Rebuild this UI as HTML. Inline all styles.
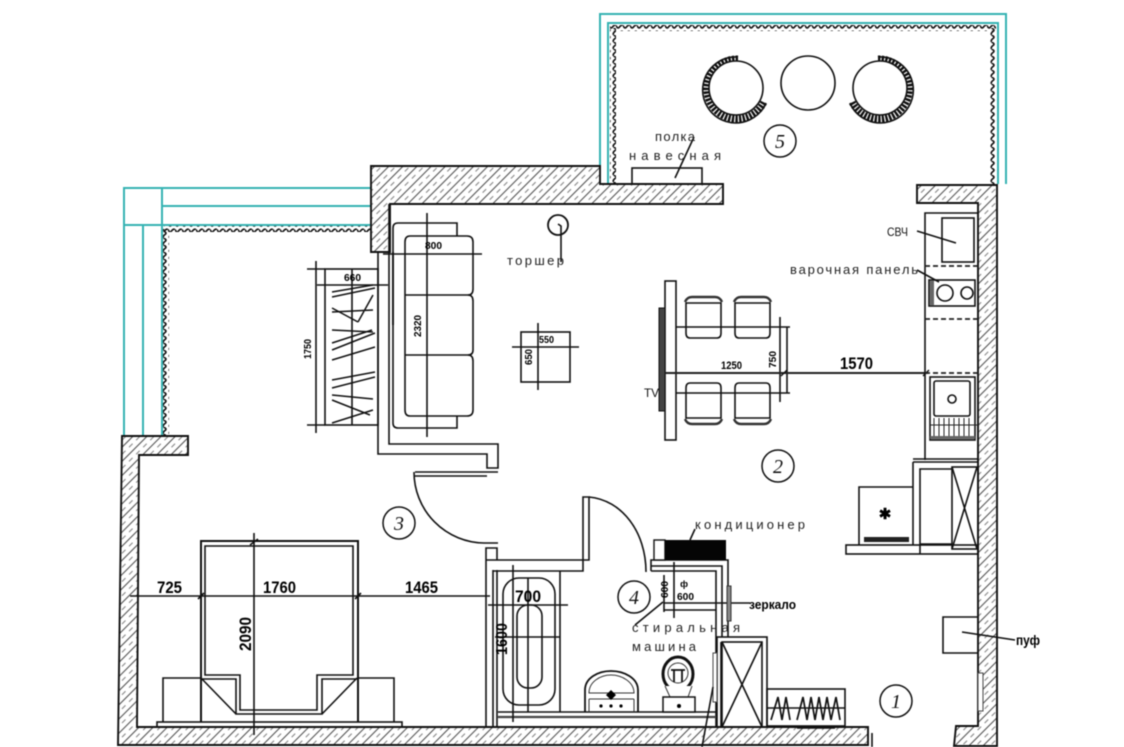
<!DOCTYPE html>
<html><head><meta charset="utf-8"><style>
html,body{margin:0;padding:0;background:#fff;width:1124px;height:747px;overflow:hidden}
svg{display:block;filter:blur(0.5px)}
text{font-family:"Liberation Sans",sans-serif;fill:#111}
.b{font-weight:bold;fill:#000}
.n{font-family:"Liberation Serif",serif;font-style:italic;font-size:20px;text-anchor:middle}
.w{fill:url(#hatch);stroke:#111;stroke-width:1.9}
.l{fill:none;stroke:#111;stroke-width:1.6}
.t{fill:none;stroke:#35b3b3;stroke-width:2}
.lab{font-size:13px;fill:#222}
</style></head><body>
<svg width="1124" height="747" viewBox="0 0 1124 747" xmlns="http://www.w3.org/2000/svg">
<defs>
<pattern id="hatch" width="10" height="10" patternUnits="userSpaceOnUse" patternTransform="rotate(45)">
<rect width="10" height="10" fill="#fff"/>
<path d="M2.5 0V10" stroke="#555" stroke-width="1.1"/>
<path d="M7.5 0V5" stroke="#888" stroke-width="1.1"/>
</pattern>
<pattern id="wh" width="7" height="6" patternUnits="userSpaceOnUse">
<path d="M0 1.5 Q1.75 5.5 3.5 3 T7 1.5" fill="none" stroke="#111" stroke-width="1.6"/>
</pattern>
<pattern id="wv" width="6" height="7" patternUnits="userSpaceOnUse">
<path d="M1.5 0 Q5.5 1.75 3 3.5 T1.5 7" fill="none" stroke="#111" stroke-width="1.6"/>
</pattern>
<g id="chairR">
<path d="M738 59 A30 30 0 1 0 764 102" fill="none" stroke="#111" stroke-width="7" stroke-dasharray="2.4 1.2"/>
<path d="M738 57 A33 33 0 1 0 766 103" fill="none" stroke="#111" stroke-width="1.6"/>
<circle cx="736" cy="88" r="27" fill="#fff" stroke="#111" stroke-width="1.6"/>
</g>
<g id="din">
<path class="l" d="M690 338Q686 338 686 333V303H721V333Q721 338 717 338Z"/>
<path d="M685 302Q687 297 692 297H715Q720 297 722 302" fill="none" stroke="#333" stroke-width="2.4"/>
</g>
</defs>

<!-- teal windows -->
<path class="t" d="M124 436V188H370M143 436V225M162 436V188M162 206H370M124 225H370"/>
<path class="t" d="M600 184V14H1006V184M608 184V23H998V184"/>
<!-- zigzag -->
<rect x="164" y="226" width="207" height="6" fill="url(#wh)"/>
<rect x="163" y="229" width="6" height="207" fill="url(#wv)"/>
<rect x="610" y="25" width="386" height="6" fill="url(#wh)"/>
<rect x="610" y="28" width="6" height="156" fill="url(#wv)"/>
<rect x="990" y="28" width="6" height="156" fill="url(#wv)"/>

<!-- walls -->
<path class="w" d="M371 166H600V184H723V204H390V252H371Z"/>
<path class="w" d="M917 185H997V746H954L956 726H978V203H917Z"/>
<path class="w" d="M122 436H188V455H139L137 727H868V745H118Z"/>

<!-- living partition -->
<path class="l" d="M378 252V454H487V468H498V444H389V204"/>
<path class="l" d="M415 472H498M415 476H487"/>
<path class="l" d="M414 472A71 71 0 0 0 484 543H498"/>
<path d="M393 252V325" stroke="#111" stroke-width="1.8"/>

<!-- bathroom walls -->
<path class="l" d="M486 548H497V560H486ZM486 560V727M493 570V727M497 570V727M486 560H583V571H493"/>
<path class="l" d="M583 560V497H589V560Z"/>
<path class="l" d="M589 497C622 500 646 532 646 572"/>
<path class="l" d="M651 571V560H728V637M651 571H716V637M651 566H722V637M716 637V727M721 642V727"/>

<!-- AC -->
<rect x="654" y="540" width="11" height="20" fill="#fff" stroke="#111" stroke-width="1.4"/>
<rect x="665" y="540" width="61" height="20" fill="#050505"/>
<path class="l" d="M695 529L690 540"/>

<!-- washer dims -->
<path class="l" d="M664 575V612M674 562V618M664 603H750M664 610H716"/>
<rect x="727" y="586" width="4" height="35" fill="#888" stroke="#333"/>
<path class="l" d="M663 602L635 625"/>
<text class="b" font-size="10" x="677" y="600" textLength="17" lengthAdjust="spacingAndGlyphs">600</text>
<text class="b" font-size="9" x="684" y="587" text-anchor="middle">ф</text>
<text class="b" font-size="10" transform="translate(668,598) rotate(-90)" textLength="17" lengthAdjust="spacingAndGlyphs">600</text>

<!-- bath -->
<path class="l" d="M560 571V712M498 712H716"/>
<path d="M498 717H716" stroke="#444" stroke-width="2.2"/>
<rect x="503" y="578" width="52" height="127" rx="16" class="l"/>
<rect x="517" y="605" width="25" height="83" rx="11" class="l"/>
<path class="l" d="M488 605H568M513 565V722M528 578V712M495 637H560"/>
<text class="b" font-size="17" x="515" y="602" textLength="26" lengthAdjust="spacingAndGlyphs">700</text>
<text class="b" font-size="16" transform="translate(507,655) rotate(-90)" textLength="32" lengthAdjust="spacingAndGlyphs">1600</text>

<!-- sink -->
<path d="M585 712V690C585 678 598 671 611 671S638 678 638 690V712" fill="none" stroke="#111" stroke-width="1.8"/>
<path d="M589 693C589 682 600 675 611 675S634 682 634 693Z" fill="none" stroke="#333"/>
<path d="M589 699H634M589 712V699M634 712V699" stroke="#333" fill="none"/>
<path d="M611 690l5 5-5 5-5-5z" fill="#000"/>
<circle cx="601" cy="706" r="1.6" fill="#000"/><circle cx="611" cy="706" r="1.6" fill="#000"/><circle cx="621" cy="706" r="1.6" fill="#000"/>
<!-- toilet -->
<ellipse cx="678" cy="674" rx="15" ry="17" fill="#fff" stroke="#111" stroke-width="3"/>
<ellipse cx="678" cy="673" rx="10" ry="10" fill="#fff" stroke="#333"/>
<path d="M671 670H685M674 670V682M682 670V682" stroke="#111" stroke-width="1.8" fill="none"/>
<path d="M665 686L670 697H688L692 686" fill="#fff" stroke="#333"/>
<rect x="663" y="697" width="32" height="15" fill="#fff" stroke="#111" stroke-width="1.5"/>
<circle cx="679" cy="706" r="2" fill="#000"/>

<!-- laundry cabinet -->
<rect x="717" y="637" width="50" height="90" class="l"/>
<rect x="722" y="642" width="40" height="85" class="l"/>
<path class="l" d="M722 642L762 727M762 642L722 727"/>
<rect x="713" y="653" width="4" height="49" fill="#fff" stroke="#444"/>
<path class="l" d="M713 687L702 747"/>
<!-- rack -->
<rect x="767" y="689" width="78" height="37" class="l"/>
<path d="M771 720L778 697L782 720L786 697L790 720M797 720L803 697L807 720L811 697L815 720L819 697L823 720L827 697L831 720L836 697L840 720" fill="none" stroke="#111" stroke-width="1.7"/>
<path class="l" d="M767 708H845M797 728H835"/>

<!-- bedroom -->
<path d="M201 722V541H358V722" fill="none" stroke="#111" stroke-width="2"/>
<path class="l" d="M205 675V546H353V675H317V710H240V675Z"/>
<path class="l" d="M201 679H236V714H322V679H357M201 678L236 714M357 678L322 714"/>
<path class="l" d="M163 722V678H201M357 678H394V722"/>
<rect x="157" y="722" width="245" height="5" class="l"/>
<path class="l" d="M130 596H490M254 533V735"/>
<path d="M198 599L204 593M355 599L361 593M250 545L258 539" stroke="#111" stroke-width="1.6"/>
<text class="b" font-size="17" x="157" y="593" textLength="25" lengthAdjust="spacingAndGlyphs">725</text>
<text class="b" font-size="17" x="263" y="593" textLength="33" lengthAdjust="spacingAndGlyphs">1760</text>
<text class="b" font-size="17" x="405" y="593" textLength="33" lengthAdjust="spacingAndGlyphs">1465</text>
<text class="b" font-size="17" transform="translate(251,651) rotate(-90)" textLength="34" lengthAdjust="spacingAndGlyphs">2090</text>

<!-- sofa -->
<path class="l" d="M457 236V223H398Q393 223 393 228V423Q393 428 398 428H457V416"/>
<path class="l" d="M410 236H467Q473 236 473 242V289Q473 295 468 295H405"/>
<path class="l" d="M468 295Q473 295 473 301V350Q473 355 468 355H405"/>
<path class="l" d="M468 355Q473 355 473 361V410Q473 416 467 416H410Q405 416 405 410V242Q405 236 410 236"/>
<path class="l" d="M427 213V437M383 254H482"/>
<text class="b" font-size="10" x="425" y="249" textLength="17" lengthAdjust="spacingAndGlyphs">800</text>
<text class="b" font-size="10" transform="translate(421,337) rotate(-90)" textLength="22" lengthAdjust="spacingAndGlyphs">2320</text>

<!-- bench -->
<rect x="325" y="269" width="53" height="156" class="l"/>
<path class="l" d="M316 261V433M307 269H325M307 425H325M317 285H388M352 269V425"/>
<path d="M332 292L373 285M332 297L375 288M332 312L373 310M332 308L358 322M358 322L373 295M332 330L373 332M332 350L375 333M332 360L375 347M332 343L372 330M332 380L375 372M332 388L375 377M332 395L373 399M332 400L370 415M332 423L373 410" stroke="#111" stroke-width="1.5" fill="none"/>
<text class="b" font-size="10" x="344" y="281" textLength="17" lengthAdjust="spacingAndGlyphs">660</text>
<text class="b" font-size="10" transform="translate(311,359) rotate(-90)" textLength="20" lengthAdjust="spacingAndGlyphs">1750</text>

<!-- coffee table -->
<rect x="521" y="332" width="49" height="50" class="l"/>
<path class="l" d="M512 347H579M538 323V390"/>
<text class="b" font-size="10" x="539" y="343" textLength="15" lengthAdjust="spacingAndGlyphs">550</text>
<text class="b" font-size="10" transform="translate(532,365) rotate(-90)" textLength="16" lengthAdjust="spacingAndGlyphs">650</text>

<!-- lamp -->
<circle cx="558" cy="225" r="10" fill="#fff" stroke="#111" stroke-width="1.8"/>
<path class="l" d="M558 224L561 226L561 262"/>
<text class="lab" x="507" y="265" textLength="57">торшер</text>

<!-- tv + table -->
<rect x="665" y="281" width="11" height="159" class="l"/>
<rect x="659" y="308" width="6" height="103" fill="#444" stroke="#111"/>
<path class="l" d="M676 327H790M676 393H790M780 317V402M787 327V393"/>
<path d="M665 373H928" stroke="#222" stroke-width="1.9"/>
<path d="M781 376l6-6M923 376l6-6" stroke="#111" stroke-width="1.4"/>
<use href="#din"/><use href="#din" x="49"/>
<use href="#din" transform="matrix(1 0 0 -1 0 721)"/><use href="#din" transform="matrix(1 0 0 -1 49 721)"/>
<text class="b" font-size="11" x="721" y="369" textLength="21" lengthAdjust="spacingAndGlyphs">1250</text>
<text class="b" font-size="10" transform="translate(776,368) rotate(-90)" textLength="17" lengthAdjust="spacingAndGlyphs">750</text>
<text class="b" font-size="17" x="840" y="369" textLength="33" lengthAdjust="spacingAndGlyphs">1570</text>
<text font-size="12" x="644" y="397" textLength="15" lengthAdjust="spacingAndGlyphs">TV</text>

<!-- kitchen -->
<path class="l" d="M925 460V213H978"/>
<rect x="942" y="218" width="32" height="44" class="l"/>
<path class="l" d="M917 231L956 243"/>
<text font-size="12" x="887" y="236" textLength="21" lengthAdjust="spacingAndGlyphs">СВЧ</text>
<path d="M925 266H978M925 319H978M925 373H978" stroke="#222" stroke-width="1.8" stroke-dasharray="5 3" fill="none"/>
<rect x="929" y="280" width="46" height="26" class="l"/>
<rect x="930" y="281" width="4" height="24" fill="#666"/>
<circle cx="945" cy="293" r="8" class="l"/><circle cx="967" cy="293" r="6" class="l"/>
<path class="l" d="M917 270L939 282"/>
<text class="lab" x="790" y="274" textLength="128">варочная панель</text>
<rect x="930" y="377" width="45" height="63" class="l"/>
<rect x="934" y="381" width="36" height="35" rx="2" class="l"/>
<circle cx="952" cy="399" r="4" class="l"/>
<path d="M934 418V439M939 418V439M944 418V439M949 418V439M954 418V439M959 418V439M964 418V439M969 418V439M930 425H978" stroke="#222" fill="none"/>
<rect x="930" y="436" width="45" height="3" fill="#666"/>

<!-- lower kitchen -->
<path class="l" d="M913 462H978M913 462V545"/>
<path class="l" d="M913 459H978"/>
<path class="l" d="M920 545V469H952M920 544H952"/>
<rect x="952" y="467" width="26" height="82" class="l"/>
<path class="l" d="M952 467L977 549M977 467L952 549"/>
<rect x="846" y="545" width="132" height="9" class="l"/>
<path class="l" d="M920 545V554"/>
<path class="l" d="M859 545V487H913"/>
<text x="885" y="519" font-size="15" text-anchor="middle" class="b">✱</text>
<rect x="864" y="537" width="45" height="5" fill="#222"/>

<!-- pouf -->
<path class="l" d="M978 617H943V653H978"/>
<path class="l" d="M962 632L1015 640"/>
<text class="b" font-size="14" x="1016" y="645" textLength="24" lengthAdjust="spacingAndGlyphs">пуф</text>
<rect x="978" y="673" width="5" height="38" fill="#fff" stroke="#444"/>
<path class="l" d="M872 733V747"/>

<!-- balcony -->
<use href="#chairR"/>
<use href="#chairR" transform="matrix(-1 0 0 1 1616 0)"/>
<circle cx="808" cy="83" r="27" fill="#fff" stroke="#111" stroke-width="1.6"/>
<rect x="632" y="168" width="70" height="16" class="l"/>
<path class="l" d="M694 137L675 178"/>
<text class="lab" font-size="12" x="655" y="141" textLength="40">полка</text>
<text class="lab" font-size="12" x="629" y="160" textLength="92">навесная</text>

<!-- labels -->
<text class="lab" x="695" y="529" textLength="110">кондиционер</text>
<text class="b" font-size="13" x="749" y="609" textLength="47" lengthAdjust="spacingAndGlyphs">зеркало</text>
<text class="lab" x="632" y="632" textLength="108">стиральная</text>
<text class="lab" x="632" y="651" textLength="64">машина</text>

<!-- room numbers -->
<g fill="#fff" stroke="#111" stroke-width="1.5">
<circle cx="780" cy="141" r="16"/><circle cx="778" cy="466" r="16"/><circle cx="399" cy="523" r="16"/><circle cx="634" cy="597" r="16"/><circle cx="896" cy="701" r="16"/>
</g>
<text class="n" x="780" y="148">5</text><text class="n" x="778" y="473">2</text><text class="n" x="399" y="530">3</text><text class="n" x="634" y="604">4</text><text class="n" x="896" y="708">1</text>
</svg>
</body></html>
